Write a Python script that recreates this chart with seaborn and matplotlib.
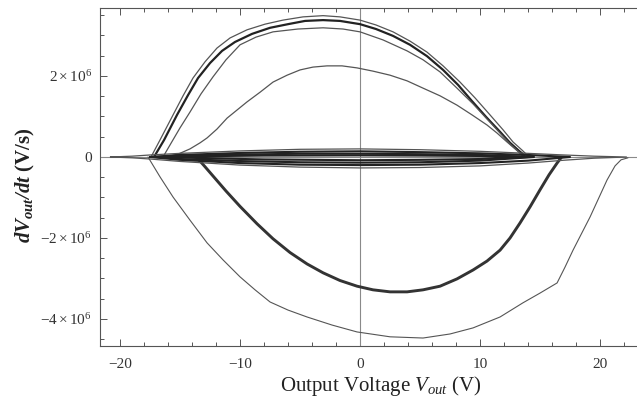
import numpy as np
import pandas as pd
import matplotlib
matplotlib.use("Agg")
import matplotlib.pyplot as plt
import seaborn as sns
from matplotlib.ticker import MultipleLocator, FixedLocator, FixedFormatter

# ---------------- data (x in V, y in 1e6 V/s) ----------------
# upper arcs
a1_x = [-17.42, -16.67, -15.58, -14.75, -13.92, -12.92, -11.92, -10.83, -9.42, -7.92, -6.42, -4.75, -3.08,
        -1.67, 0.0, 1.33, 2.75, 4.17, 5.58, 6.92, 8.33, 9.58, 10.83, 11.92, 12.75, 13.5, 13.92]
a1_y = [0.0, 0.42, 1.04, 1.51, 1.95, 2.35, 2.69, 2.94, 3.14, 3.28, 3.38, 3.46, 3.49,
        3.46, 3.38, 3.26, 3.09, 2.86, 2.59, 2.25, 1.85, 1.46, 1.04, 0.67, 0.37, 0.17, 0.05]
a2_x = [-17.17, -16.33, -15.25, -14.33, -13.5, -12.5, -11.5, -10.42, -9.0, -7.5, -6.0, -4.58, -3.08,
        -1.67, 0.0, 1.33, 2.75, 4.17, 5.58, 6.92, 8.17, 9.33, 10.5, 11.67, 12.5, 13.25, 13.67]
a2_y = [0.0, 0.42, 1.04, 1.53, 1.95, 2.32, 2.62, 2.84, 3.04, 3.19, 3.28, 3.36, 3.38,
        3.36, 3.28, 3.16, 2.99, 2.77, 2.49, 2.15, 1.78, 1.38, 0.99, 0.62, 0.35, 0.15, 0.05]
a3_x = [-16.42, -15.83, -15.0, -14.17, -13.25, -12.25, -11.17, -10.0, -8.67, -7.25, -5.17, -3.08,
        -1.42, 0.0, 1.92, 3.92, 5.25, 6.67, 8.08, 9.42, 10.58, 11.67, 12.58, 13.33, 13.58]
a3_y = [0.0, 0.30, 0.72, 1.11, 1.56, 1.98, 2.40, 2.77, 2.96, 3.09, 3.16, 3.19,
        3.16, 3.09, 2.89, 2.62, 2.40, 2.10, 1.70, 1.31, 0.94, 0.59, 0.30, 0.10, 0.02]
a4_x = [-16.25, -15.17, -14.17, -13.33, -12.75, -11.92, -11.08, -10.25, -9.42, -8.33, -7.25, -6.08, -5.0,
        -3.92, -2.75, -1.5, -0.25, 1.08, 2.5, 3.92, 5.25, 6.67, 8.08, 9.33, 10.58, 11.42, 12.25, 12.92,
        13.5, 13.92]
a4_y = [0.0, 0.07, 0.20, 0.35, 0.47, 0.69, 0.96, 1.16, 1.36, 1.60, 1.85, 2.02, 2.15,
        2.22, 2.25, 2.25, 2.20, 2.12, 2.02, 1.88, 1.70, 1.51, 1.28, 1.04, 0.79, 0.59, 0.37, 0.20,
        0.05, 0.0]
# lower arcs
b1_x = [-13.58, -12.92, -12.25, -11.17, -10.0, -8.58, -7.25, -5.83, -4.42, -3.08, -1.67, -0.25, 1.08,
        2.5, 3.92, 5.25, 6.67, 8.08, 9.42, 10.58, 11.67, 12.5, 13.33, 14.17, 15.0, 15.75, 16.42, 16.75]
b1_y = [-0.02, -0.24, -0.47, -0.84, -1.22, -1.65, -2.02, -2.36, -2.64, -2.86, -3.05, -3.19, -3.28,
        -3.33, -3.33, -3.28, -3.19, -3.01, -2.79, -2.57, -2.30, -2.0, -1.63, -1.23, -0.81, -0.44, -0.15, -0.02]
b2_x = [-17.67, -16.67, -15.58, -14.17, -12.75, -11.42, -10.0, -8.75, -7.5, -6.0, -4.42, -2.33, -0.25,
        2.5, 5.25, 7.5, 9.42, 11.67, 13.58, 15.0, 16.42, 17.08, 17.75, 19.17, 20.58, 21.25, 21.75, 22.33]
b2_y = [0.0, -0.49, -0.99, -1.56, -2.12, -2.54, -2.96, -3.28, -3.58, -3.78, -3.95, -4.15, -4.32,
        -4.44, -4.47, -4.37, -4.22, -3.95, -3.60, -3.36, -3.11, -2.72, -2.30, -1.48, -0.57, -0.22, -0.07, -0.02]
# flat loops near zero
e1_x = [-20.8, -19.0, -17.5, -15.0, -10.0, -5.0, 0.0, 5.0, 10.0, 14.0, 17.0, 19.5, 22.2]
e1_top = [0.0, 0.02, 0.05, 0.09, 0.15, 0.19, 0.20, 0.18, 0.14, 0.09, 0.05, 0.02, 0.0]
e1_bot = [0.0, -0.02, -0.05, -0.11, -0.20, -0.25, -0.27, -0.26, -0.22, -0.15, -0.08, -0.03, 0.0]
e2_x = [-17.5, -15.0, -10.0, -5.0, 0.0, 5.0, 10.0, 14.0, 17.5]
e2_top = [0.0, 0.05, 0.10, 0.13, 0.14, 0.12, 0.09, 0.05, 0.0]
e2_bot = [0.0, -0.07, -0.15, -0.19, -0.20, -0.19, -0.15, -0.09, 0.0]
e3_x = [-17.0, -15.0, -10.0, -5.0, 0.0, 5.0, 10.0, 14.5]
e3_top = [0.0, 0.03, 0.06, 0.08, 0.08, 0.07, 0.05, 0.0]
e3_bot = [0.0, -0.05, -0.10, -0.13, -0.14, -0.13, -0.09, 0.0]
e4_x = [-16.0, -13.0, -8.0, 0.0, 5.0, 10.0, 14.0]
e4_top = [0.0, 0.02, 0.035, 0.04, 0.035, 0.025, 0.0]
e4_bot = [0.0, -0.03, -0.06, -0.08, -0.07, -0.05, 0.0]

x_ticks = [-20, -10, 0, 10, 20]
x_ticklabels = ["\u221220", "\u221210", "0", "10", "20"]
y_ticks = [-4e6, -2e6, 0, 2e6]
y_ticklabels = [r"$-4\times10^{6}$", r"$-2\times10^{6}$", "0", r"$2\times10^{6}$"]

# ---------------- style ----------------
sns.set_style("ticks")
plt.rcParams['font.family'] = ['Liberation Serif', 'DejaVu Serif']
plt.rcParams['mathtext.fontset'] = 'custom'
plt.rcParams['mathtext.rm'] = 'Liberation Serif'
plt.rcParams['mathtext.it'] = 'Liberation Serif:italic'
plt.rcParams['mathtext.bf'] = 'Liberation Serif:italic:bold'

fig = plt.figure(figsize=(6.37, 3.98), dpi=100)
ax = fig.add_axes([100/637, 52/398, 537/637, 338/398])

ax.axhline(0, color='#8a8a8a', lw=0.8, zorder=1)
ax.axvline(0, color='#8a8a8a', lw=0.8, zorder=1)

def loop(xs, top, bot):
    return xs + xs[::-1], top + bot[::-1]

curves = []
curves.append((a1_x, a1_y, '#555555', 0.9))
curves.append((a2_x, a2_y, '#222222', 1.6))
curves.append((a3_x, a3_y, '#555555', 0.9))
curves.append((a4_x, a4_y, '#555555', 0.9))
curves.append((b1_x, b1_y, '#333333', 2.1))
curves.append((b2_x, b2_y, '#555555', 0.8))
for ex, et, eb, c, w in [(e1_x, e1_top, e1_bot, '#555555', 0.9),
                         (e2_x, e2_top, e2_bot, '#222222', 1.5),
                         (e3_x, e3_top, e3_bot, '#222222', 1.5),
                         (e4_x, e4_top, e4_bot, '#222222', 1.5)]:
    lx, ly = loop(ex, et, eb)
    curves.append((lx, ly, c, w))

for xs, ys, c, w in curves:
    sns.lineplot(x=np.array(xs), y=np.array(ys) * 1e6, sort=False, estimator=None,
                 color=c, linewidth=w, ax=ax, zorder=2)

ax.set_xlim(-21.67, 23.08)
ax.set_ylim(-4.667e6, 3.679e6)

ax.xaxis.set_major_locator(FixedLocator(x_ticks))
ax.xaxis.set_major_formatter(FixedFormatter(x_ticklabels))
ax.xaxis.set_minor_locator(MultipleLocator(2))
ax.yaxis.set_major_locator(FixedLocator(y_ticks))
ax.yaxis.set_major_formatter(FixedFormatter(y_ticklabels))
ax.yaxis.set_minor_locator(MultipleLocator(0.5e6))

ax.tick_params(which='both', direction='in', top=True, right=False, colors='#555555',
               labelcolor='#333333', width=0.7)
ax.tick_params(which='major', length=5)
ax.tick_params(which='minor', length=3)
ax.tick_params(axis='x', labelsize=11, pad=9)
ax.tick_params(axis='y', labelsize=11, pad=6)

for s in ['left', 'bottom', 'top']:
    ax.spines[s].set_color('#555555')
    ax.spines[s].set_linewidth(0.8)
ax.spines['right'].set_visible(False)

ax.set_xlabel(r"Output Voltage $V_{out}$ (V)", fontsize=15, color='#222222')
ax.set_ylabel(r"$\mathbf{dV_{out}/dt}$ (V/s)", fontsize=15, fontweight='bold', color='#222222')
ax.xaxis.set_label_coords(0.523, -0.083)
ax.xaxis.label.set_va('top')
ax.yaxis.set_label_coords(-0.117, 0.476)

fig.savefig("out.png", dpi=100)
